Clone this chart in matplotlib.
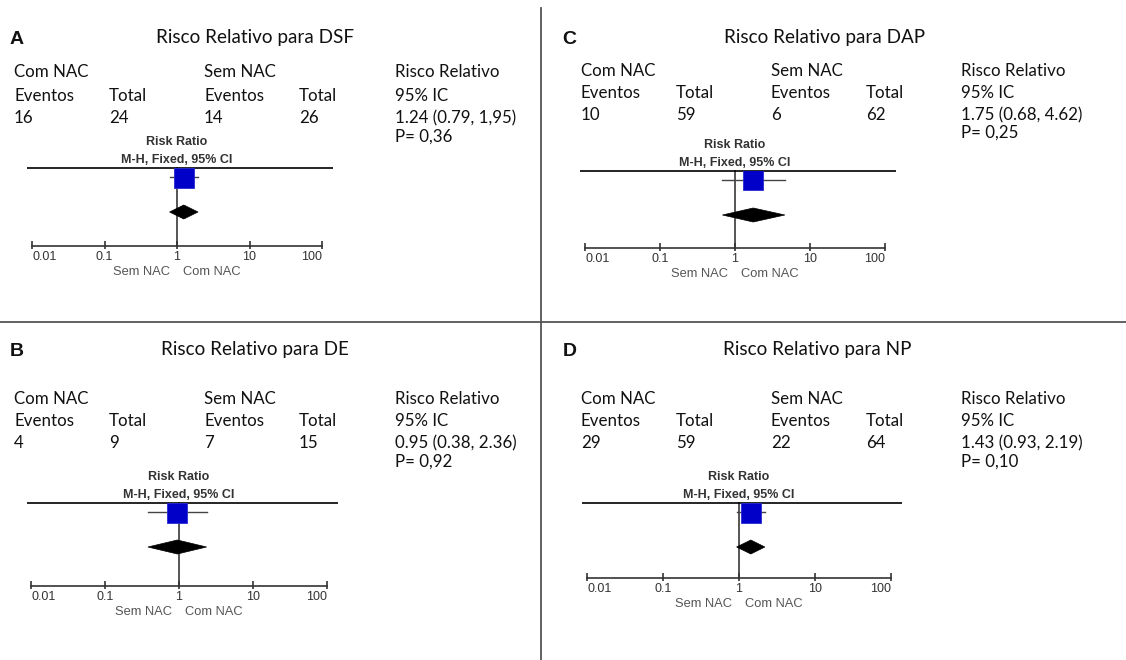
import numpy as np
import matplotlib
matplotlib.use("Agg")
import matplotlib.pyplot as plt
from matplotlib.patches import Polygon

# dados de cada painel (A, B, C, D)
panel_letters = ["A", "B", "C", "D"]
outcomes = ["DSF", "DE", "DAP", "NP"]
com_eventos = [16, 4, 10, 29]
com_total = [24, 9, 59, 59]
sem_eventos = [14, 7, 6, 22]
sem_total = [26, 15, 62, 64]
rr = [1.24, 0.95, 1.75, 1.43]
ci_low = [0.79, 0.38, 0.68, 0.93]
ci_high = [1.95, 2.36, 4.62, 2.19]
ci_labels = ["1.24 (0.79, 1,95)", "0.95 (0.38, 2.36)", "1.75 (0.68, 4.62)", "1.43 (0.93, 2.19)"]
p_labels = ["0,36", "0,92", "0,25", "0,10"]
axis_ticks = [0.01, 0.1, 1, 10, 100]
tick_labels = ["0.01", "0.1", "1", "10", "100"]

W, H = 1126, 660
HEAD_FONT = ["Lato", "DejaVu Sans"]
PLOT_FONT = ["Liberation Sans", "DejaVu Sans"]

# posicoes em pixels (letra, titulo, colunas, linhas, linha superior, eixo)
layout = [
    dict(letter=(10, 40), title=(255, 37), cols=[14, 109, 204, 299, 395],
         rows=[72, 96, 118, 137], line=(27, 333, 168), axis=(32, 322, 246)),
    dict(letter=(10, 352), title=(255, 349), cols=[14, 109, 204, 299, 395],
         rows=[399, 421, 443, 462], line=(27, 338, 503), axis=(31, 327, 586)),
    dict(letter=(562, 40), title=(825, 37), cols=[581, 676, 771, 866, 961],
         rows=[71, 93, 115, 133], line=(580, 896, 171), axis=(585, 885, 248)),
    dict(letter=(563, 352), title=(817, 349), cols=[581, 676, 771, 866, 961],
         rows=[399, 421, 443, 462], line=(582, 902, 503), axis=(587, 891, 578)),
]

fig = plt.figure(figsize=(W / 100, H / 100), dpi=100)


def ftext(x, y, s, **kw):
    kw.setdefault("family", HEAD_FONT)
    kw.setdefault("fontsize", 12.2)
    kw.setdefault("va", "center")
    kw.setdefault("color", "#111111")
    fig.text(x / W, 1 - y / H, s, **kw)


# linhas divisorias
fig.add_artist(plt.Line2D([541 / W, 541 / W], [1 - 8 / H, 0], color="#555555", lw=1.3))
fig.add_artist(plt.Line2D([0, 1], [1 - 322 / H, 1 - 322 / H], color="#555555", lw=1.3))

for i, lay in enumerate(layout):
    lx, ly = lay["letter"]
    ftext(lx, ly, panel_letters[i], fontsize=14, weight="bold", family=["Liberation Sans"])
    tx, ty = lay["title"]
    ftext(tx, ty, "Risco Relativo para " + outcomes[i], ha="center", fontsize=13.6)

    c = lay["cols"]
    r = lay["rows"]
    ftext(c[0], r[0], "Com NAC")
    ftext(c[2], r[0], "Sem NAC")
    ftext(c[4], r[0], "Risco Relativo")
    ftext(c[0], r[1], "Eventos")
    ftext(c[1], r[1], "Total")
    ftext(c[2], r[1], "Eventos")
    ftext(c[3], r[1], "Total")
    ftext(c[4], r[1], "95% IC")
    ftext(c[0], r[2], str(com_eventos[i]))
    ftext(c[1], r[2], str(com_total[i]))
    ftext(c[2], r[2], str(sem_eventos[i]))
    ftext(c[3], r[2], str(sem_total[i]))
    ftext(c[4], r[2], ci_labels[i])
    ftext(c[4], r[3], "P= " + p_labels[i])

    # forest plot
    x0, x1, top = lay["line"]
    a0, a1, ay = lay["axis"]
    ppd = (a1 - a0) / 4.0
    xmin = 10 ** (-2 - (a0 - x0) / ppd)
    xmax = 10 ** (2 + (x1 - a1) / ppd)
    h = ay + 30 - top
    ax = fig.add_axes([x0 / W, 1 - (ay + 30) / H, (x1 - x0) / W, h / H])
    ax.set_xscale("log")
    ax.set_xlim(xmin, xmax)
    ax.set_ylim(h, 0)
    ax.axis("off")
    dy = ay - top

    ax.plot([xmin, xmax], [0, 0], color="black", lw=1.2, solid_capstyle="butt", clip_on=False)
    ax.plot([1, 1], [0, dy], color="#555555", lw=1.4, clip_on=False, zorder=1)
    ax.plot([ci_low[i], ci_high[i]], [9, 9], color="#444444", lw=1.0, zorder=2)
    ax.plot([rr[i]], [9.5], marker="s", ms=14, mfc="#0000C8", mec="#2a2ad0", mew=0.6, zorder=3)
    diamond = Polygon([(ci_low[i], 44), (rr[i], 37), (ci_high[i], 44), (rr[i], 51)],
                      closed=True, facecolor="black", edgecolor="black", lw=0.5, zorder=3)
    ax.add_patch(diamond)

    ax.plot([0.01, 100], [dy, dy], color="#333333", lw=1.2, clip_on=False)
    ax.vlines(axis_ticks, dy - 5, dy + 3, color="#333333", lw=1.2)
    for t, lab in zip(axis_ticks, tick_labels):
        ha = "center"
        if t == axis_ticks[0]:
            ha = "left"
        elif t == axis_ticks[-1]:
            ha = "right"
        ax.text(t, dy + 11, lab, ha=ha, va="center", fontsize=9, family=PLOT_FONT, color="#333333")
    ax.annotate("Sem NAC", xy=(1, dy + 26), xytext=(-5, 0), textcoords="offset points",
                ha="right", va="center", fontsize=9.3, family=PLOT_FONT, color="#555555")
    ax.annotate("Com NAC", xy=(1, dy + 26), xytext=(4.5, 0), textcoords="offset points",
                ha="left", va="center", fontsize=9.3, family=PLOT_FONT, color="#555555")
    ax.text(1, -26, "Risk Ratio", ha="center", va="center", fontsize=9,
            weight="bold", family=PLOT_FONT, color="#333333")
    ax.text(1, -8, "M-H, Fixed, 95% CI", ha="center", va="center", fontsize=9,
            weight="bold", family=PLOT_FONT, color="#333333")

fig.savefig("out.png", dpi=100)
